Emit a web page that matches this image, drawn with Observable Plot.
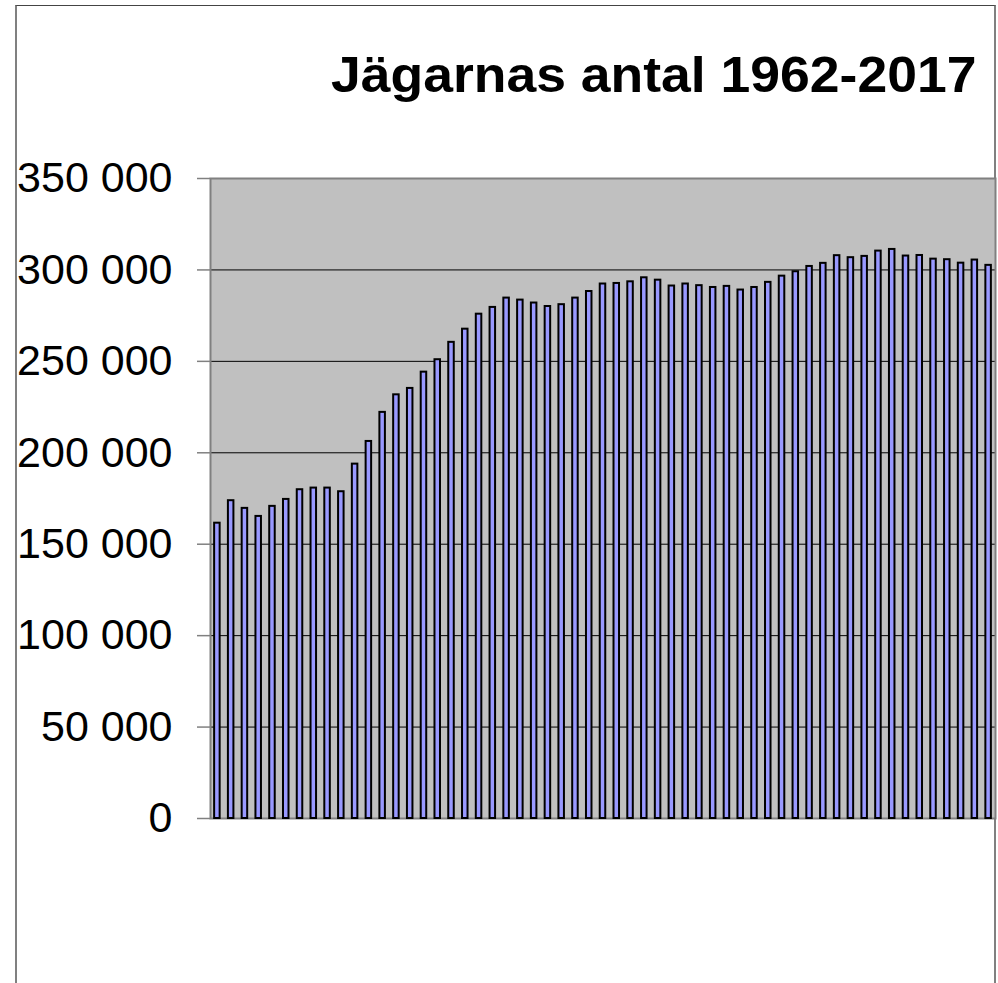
<!DOCTYPE html>
<html>
<head>
<meta charset="utf-8">
<script src="https://cdn.jsdelivr.net/npm/d3@7"></script>
<script src="https://cdn.jsdelivr.net/npm/@observablehq/plot@0.6"></script>
<style>
  html, body { margin: 0; padding: 0; background: #fff; overflow: hidden; }
  #wrap { position: relative; width: 998px; height: 983px; overflow: hidden; font-family: "Liberation Sans", Arial, sans-serif; }
  #outer { position: absolute; left: 15px; top: 5px; width: 977px; height: 1000px;
           border-top: 1px solid #444; border-left: 2px solid #808080; border-right: 2px solid #808080; }
  #title { position: absolute; left: 331px; top: 51px; margin: 0; font-size: 50px; line-height: 49px;
           font-weight: bold; color: #000; white-space: nowrap; transform: scaleX(1.07); transform-origin: left center; }
  #chart { position: absolute; left: 0; top: 120px; }
</style>
</head>
<body>
<div id="wrap">
  <div id="outer"></div>
  <div id="title">Jägarnas antal 1962-2017</div>
  <div id="chart"></div>
</div>
<script>
const years = d3.range(1961, 2018);
const hunters = [
  161500, 173800, 169600, 165200, 170700, 174500, 179800, 180700, 180700, 178700,
  193800, 206200, 222100, 231700, 235200, 244100, 250900, 260400, 267600, 275800,
  279500, 284600, 283500, 281900, 280000, 281000, 284600, 288200, 292300, 292600,
  293500, 295700, 294400, 291200, 292300, 291400, 290400, 291000, 289000, 290400,
  293200, 296600, 299000, 301900, 303600, 307800, 306700, 307400, 310300, 311200,
  307600, 307900, 305900, 305600, 303700, 305400, 302500
];
const yTicks = [0, 50000, 100000, 150000, 200000, 250000, 300000, 350000];
const gridValues = [50000, 100000, 150000, 200000, 250000, 300000];

const data = years.map((y, i) => ({year: y, value: hunters[i]}));
const fmt = v => d3.format(",")(v).replace(/,/g, " ");

const chart = Plot.plot({
  width: 998,
  height: 863,
  marginTop: 58,
  marginBottom: 165,
  marginLeft: 210,
  marginRight: 3,
  style: {fontFamily: "'Liberation Sans', Arial, sans-serif", fontSize: "43px", background: "transparent", color: "#000"},
  x: {type: "band", domain: years, paddingInner: 0.6, paddingOuter: 0.3, align: 0.5, axis: null},
  y: {domain: [0, 350000]},
  marks: [
    Plot.frame({fill: "#c0c0c0", stroke: null}),
    Plot.ruleY(gridValues, {stroke: "#000", strokeWidth: 1}),
    Plot.frame({stroke: "#808080", strokeWidth: 2}),
    Plot.axisY({ticks: yTicks, tickSize: 13, tickPadding: 25, stroke: "#808080", strokeWidth: 1.5,
                tickFormat: fmt, fill: "#000", fontSize: 43, label: null}),
    Plot.barY(data, {x: "year", y: "value", fill: "#9999ff", stroke: "#000", strokeWidth: 2})
  ]
});
document.getElementById("chart").appendChild(chart);
</script>
</body>
</html>
